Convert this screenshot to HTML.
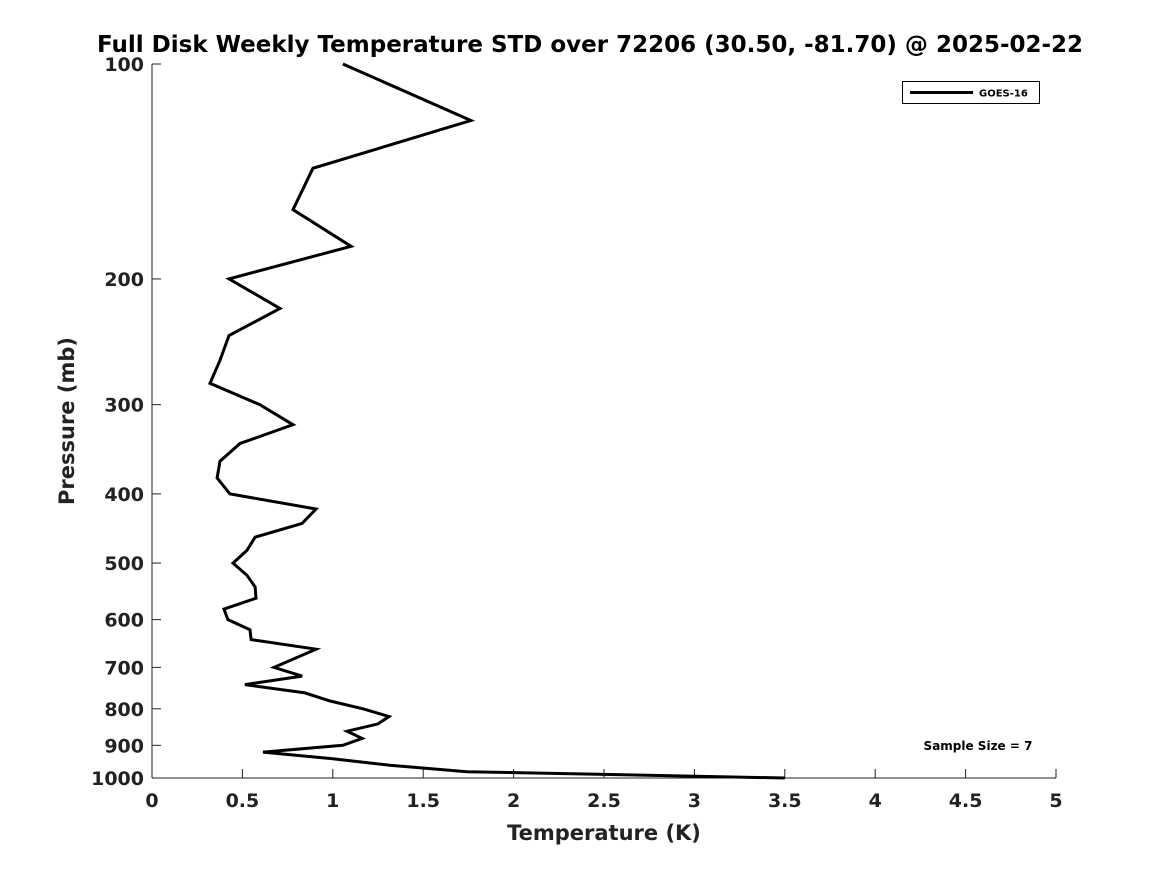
<!DOCTYPE html>
<html><head><meta charset="utf-8"><style>
body{margin:0;background:#fff;}
svg text{font-family:"DejaVu Sans","Liberation Sans",sans-serif;font-weight:bold;}
</style></head><body>
<svg id="chart" width="1167" height="875" xmlns="http://www.w3.org/2000/svg">
<rect width="1167" height="875" fill="#fff"/>
<text x="590" y="52" text-anchor="middle" font-size="23" fill="#000">Full Disk Weekly Temperature STD over 72206 (30.50, -81.70) @ 2025-02-22</text>
<g id="axes"></g>
<path id="line" fill="none" stroke="#000" stroke-width="3" stroke-linejoin="miter"/>
<g>
<rect x="902.5" y="81.5" width="137" height="22" fill="#fff" stroke="#000" stroke-width="1"/>
<line x1="910" y1="92.5" x2="973" y2="92.5" stroke="#000" stroke-width="3"/>
<text x="979" y="96.5" font-size="10">GOES-16</text>
</g>
<text x="978" y="750" text-anchor="middle" font-size="12">Sample Size = 7</text>
<text x="604" y="840" text-anchor="middle" font-size="21" fill="#222">Temperature (K)</text>
<text transform="translate(74,421) rotate(-90)" text-anchor="middle" font-size="21" fill="#222">Pressure (mb)</text>
</svg>
<script>
const xTicks=[0,0.5,1,1.5,2,2.5,3,3.5,4,4.5,5];
const xTickLabels=["0","0.5","1","1.5","2","2.5","3","3.5","4","4.5","5"];
const yTicks=[100,200,300,400,500,600,700,800,900,1000];
const yTickLabels=["100","200","300","400","500","600","700","800","900","1000"];
const pressure=[100,120,140,160,180,200,220,240,260,280,300,320,340,360,380,400,420,440,460,480,500,520,540,560,580,600,620,640,660,700,720,740,760,780,800,820,840,860,880,900,920,940,960,980,1000];
const tempStd=[1.056,1.764,0.890,0.780,1.101,0.426,0.708,0.426,0.376,0.321,0.597,0.780,0.487,0.376,0.360,0.431,0.907,0.830,0.570,0.525,0.448,0.525,0.570,0.575,0.398,0.420,0.542,0.548,0.907,0.675,0.830,0.514,0.846,0.985,1.167,1.311,1.250,1.079,1.162,1.056,0.614,1.0,1.316,1.742,3.50];
const L=152,R=1056,T=64,B=778;
const xs=v=>L+(v-0)/(5-0)*(R-L);
const ys=p=>T+(Math.log10(p)-2)/(3-2)*(B-T);
const NS="http://www.w3.org/2000/svg";
const ax=document.getElementById('axes');
function mk(tag,attrs){const e=document.createElementNS(NS,tag);for(const k in attrs)e.setAttribute(k,attrs[k]);ax.appendChild(e);return e;}
let e=mk('line',{x1:L,y1:T,x2:L,y2:B,stroke:'#222','stroke-width':1});


e=mk('line',{x1:L,y1:B,x2:R,y2:B,stroke:'#222','stroke-width':1});


xTicks.forEach((v,i)=>{
 const x=xs(v);
 let t=mk('line',{x1:x,y1:B,x2:x,y2:B-9,stroke:'#222','stroke-width':1});
 
 
 let l=mk('text',{x:x,y:B+29,'text-anchor':'middle','font-size':19,fill:'#222'});
 l.textContent=xTickLabels[i];
 
 
});
yTicks.forEach((v,i)=>{
 const y=ys(v);
 let t=mk('line',{x1:L,y1:y,x2:L+9,y2:y,stroke:'#222','stroke-width':1});
 
 
 let l=mk('text',{x:L-8,y:y+7,'text-anchor':'end','font-size':19,fill:'#222'});
 l.textContent=yTickLabels[i];
 
 
});
document.getElementById('line').setAttribute('d',pressure.map((p,i)=>(i?'L':'M')+xs(tempStd[i]).toFixed(1)+','+ys(p).toFixed(1)).join(' '));
</script>
</body></html>
